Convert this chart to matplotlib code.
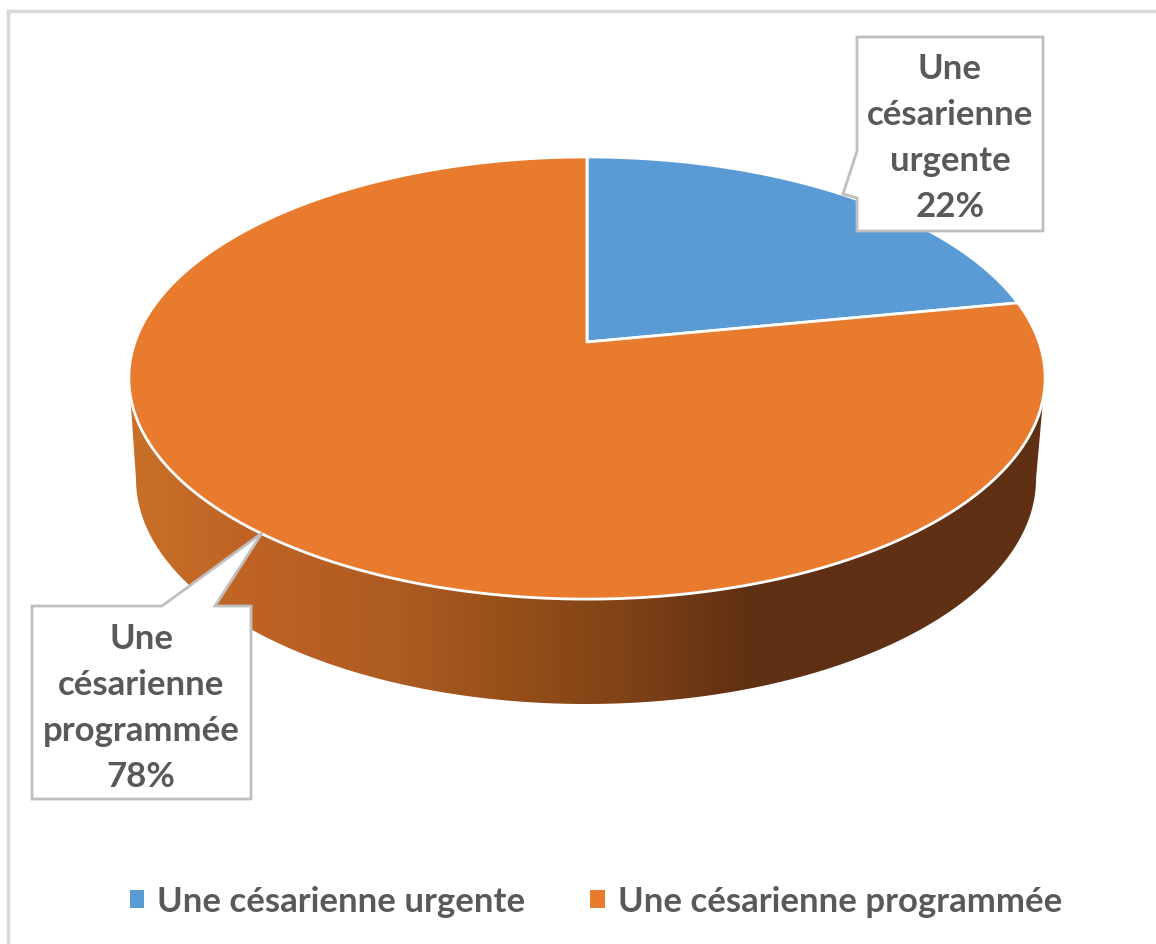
#!/usr/bin/env python3
import numpy as np
import matplotlib
matplotlib.use("Agg")
from matplotlib import pyplot as plt
from matplotlib.colors import LinearSegmentedColormap
from matplotlib.patches import Polygon, Patch

categories = ["Une césarienne urgente", "Une césarienne programmée"]
shares = [22, 78]
callout_lines = [["Une", "césarienne", "urgente"], ["Une", "césarienne", "programmée"]]

BLUE = "#5B9BD5"
ORANGE = "#E97B2F"
TEXT = "#595959"
EDGE = "#BFBFBF"
FONT = "Lato"

# tilted pie: unit circle seen in perspective, in pixel coordinates
CX, CY = 587, 343
K = 0.163
A, B = 452, 215.2


def project(theta):
	# theta in radians, clockwise from the top of the pie
	x = np.sin(theta)
	y = np.cos(theta)
	d = 1 + K * y
	return CX + A * x / d, CY - B * y / d


def wedge(start, stop):
	t = np.linspace(start, stop, 300)
	px, py = project(t)
	return np.column_stack([np.r_[CX, px], np.r_[CY, py]])


def rim(cx, cy, a, b, start, stop):
	t = np.radians(np.linspace(start, stop, 300))
	return np.column_stack([cx + a * np.cos(t), cy + b * np.sin(t)])


def callout(ax, pts, lines, share, x, y):
	ax.add_patch(Polygon(pts, closed=True, fc="white", ec=EDGE, lw=2, zorder=5))
	txt = "\n".join(lines + ["%d%%" % share])
	ax.text(x, y, txt, ha="center", va="center", color=TEXT, fontsize=25,
		fontweight="bold", family=FONT, linespacing=1.53, zorder=6)


def main():
	fig = plt.figure(figsize=(11.56, 9.45), dpi=100)
	ax = fig.add_axes([0, 0, 1, 1])

	# side of the disc
	stops = [(129, "#C87029"), (260, "#BE6224"), (400, "#AC5B22"), (500, "#985019"),
		(640, "#7D4016"), (750, "#5F3013"), (1045, "#5F3013")]
	span = stops[-1][0] - stops[0][0]
	cmap = LinearSegmentedColormap.from_list("side",
		[((p - stops[0][0]) / span, c) for p, c in stops])
	img = ax.imshow(np.linspace(0, 1, 512)[None, :], cmap=cmap, aspect="auto",
		extent=[129, 1045, 712, 370], zorder=1)
	outline = np.vstack([rim(587, 379, 458, 221, 0, 180), rim(586, 480, 450, 225, 180, 0)])
	clip = Polygon(outline, closed=True, transform=ax.transData)
	img.set_clip_path(clip)

	# top of the disc, wedge angles come from the shares
	fracs = np.cumsum([0] + shares) / sum(shares) * 2 * np.pi
	colors = [BLUE, ORANGE]
	for i in range(len(shares)):
		ax.add_patch(Polygon(wedge(fracs[i], fracs[i + 1]), closed=True, fc=colors[i],
			ec="white", lw=2, joinstyle="round", zorder=2))

	callout(ax, [(857, 38), (1043, 38), (1043, 232), (857, 232), (857, 199), (843, 195), (857, 152)],
		callout_lines[0], shares[0], 950, 138)
	callout(ax, [(32, 607), (162, 607), (262, 534), (215, 607), (251, 607), (251, 800), (32, 800)],
		callout_lines[1], shares[1], 141, 708)

	# frame of the original chart area
	ax.plot([8, 8], [945, 12], color="#D9D9D9", lw=2.5, zorder=0)
	ax.plot([8, 1156], [12, 12], color="#D9D9D9", lw=2.5, zorder=0)

	handles = [Patch(fc=colors[i], ec="none", label=categories[i]) for i in range(2)]
	ax.legend(handles=handles, loc="center", bbox_to_anchor=(0.5155, 0.0455), ncol=2,
		frameon=False, handlelength=0.42, handleheight=0.42, handletextpad=0.37, columnspacing=1.87,
		prop={"family": FONT, "size": 25, "weight": "bold"}, labelcolor=TEXT)

	ax.set_xlim(0, 1156)
	ax.set_ylim(945, 0)
	ax.axis("off")
	fig.savefig("out.png", dpi=100)


if __name__ == '__main__':
	main()
